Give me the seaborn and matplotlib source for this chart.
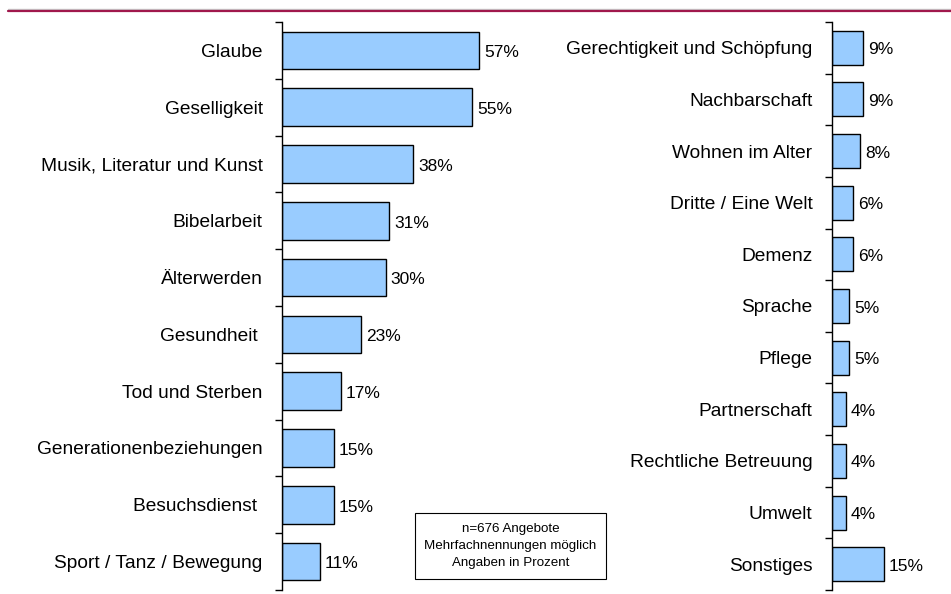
import numpy as np
import seaborn as sns
import matplotlib.pyplot as plt
from matplotlib.lines import Line2D

left_labels = ['Glaube', 'Geselligkeit', 'Musik, Literatur und Kunst', 'Bibelarbeit',
               'Älterwerden', 'Gesundheit ', 'Tod und Sterben', 'Generationenbeziehungen',
               'Besuchsdienst ', 'Sport / Tanz / Bewegung']
left_values = [57, 55, 38, 31, 30, 23, 17, 15, 15, 11]

right_labels = ['Gerechtigkeit und Schöpfung', 'Nachbarschaft', 'Wohnen im Alter',
                'Dritte / Eine Welt', 'Demenz', 'Sprache', 'Pflege', 'Partnerschaft',
                'Rechtliche Betreuung', 'Umwelt', 'Sonstiges']
right_values = [9, 9, 8, 6, 6, 5, 5, 4, 4, 4, 15]

note = 'n=676 Angebote\nMehrfachnennungen möglich\nAngaben in Prozent'

sns.set_style('white')
plt.rcParams['font.family'] = ['Liberation Sans', 'DejaVu Sans']
plt.rcParams['text.color'] = 'black'
plt.rcParams['ytick.color'] = 'black'
plt.rcParams['ytick.labelcolor'] = 'black'

W, H = 951, 594
fig = plt.figure(figsize=(W / 100, H / 100), dpi=100)

px_per_pct = 3.45
top, bottom = 22, 590


def panel(x0, labels, values, xmax):
    ax = fig.add_axes([x0 / W, 1 - bottom / H, xmax * px_per_pct / W, (bottom - top) / H])
    sns.barplot(x=values, y=labels, orient='h', ax=ax, color='#99CCFF',
                edgecolor='black', linewidth=1.0, width=0.66, saturation=1)
    n = len(labels)
    ax.set_xlim(0, xmax)
    ax.set_ylim(n - 0.5, -0.5)
    ax.set_xticks([])
    ax.set_xlabel('')
    ax.set_ylabel('')
    for s in ['top', 'right', 'bottom']:
        ax.spines[s].set_visible(False)
    ax.spines['left'].set_color('black')
    ax.spines['left'].set_linewidth(1.0)
    ax.tick_params(axis='y', which='major', left=True, length=0, pad=14, labelsize=13.8,
                   labelcolor='black')
    ax.set_yticks(np.arange(-0.5, n), minor=True)
    ax.tick_params(axis='y', which='minor', left=True, length=5, width=1.0,
                   direction='out', color='black')
    for i, v in enumerate(values):
        ax.text(v + 1.5, i + 0.04, f'{v}%', va='center', ha='left', fontsize=12.5,
                color='black')
    return ax


panel(282, left_labels, left_values, 60)
panel(832, right_labels, right_values, 25)

fig.text(510.5 / W, 1 - 546 / H, note, ha='center', va='center', fontsize=9.6,
         linespacing=1.6, color='black',
         bbox=dict(boxstyle='square,pad=0.7', facecolor='white', edgecolor='black', linewidth=0.8))

fig.add_artist(Line2D([8 / W, 1], [1 - 8.5 / H, 1 - 8.5 / H], color='#C8C8C8', linewidth=1))
fig.add_artist(Line2D([8 / W, 1], [1 - 10.5 / H, 1 - 10.5 / H], color='#A0184C', linewidth=1.6))

fig.savefig('out.png', dpi=100)
